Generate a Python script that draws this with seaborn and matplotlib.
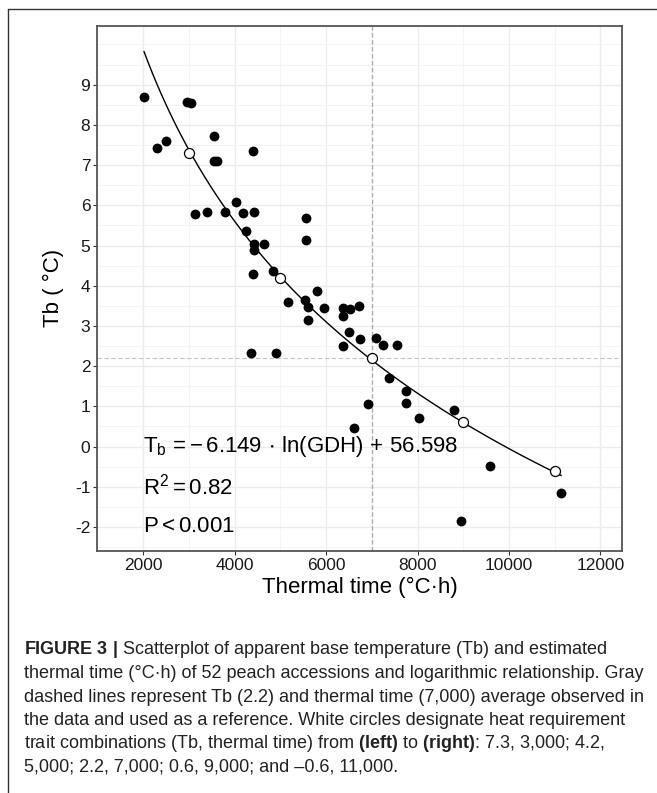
import numpy as np
import pandas as pd
import matplotlib
matplotlib.use("Agg")
import matplotlib.pyplot as plt
import seaborn as sns
from matplotlib import font_manager as fm
from matplotlib.lines import Line2D

# Observed accessions: thermal time (°C·h) and apparent base temperature Tb (°C)
thermal_time = [2020, 2968, 3049, 2299, 2510, 3552, 3559, 3617, 4404, 3143,
                3405, 3799, 4033, 4186, 4426, 4251, 4433, 4638, 4433, 5563,
                5556, 4411, 4834, 5806, 5163, 5541, 5613, 5613, 5949, 6372,
                6517, 6717, 6379, 6499, 6743, 6364, 4353, 4913, 6910, 6619,
                7093, 7239, 7559, 7370, 7749, 7756, 8040, 8798, 9592, 11143,
                8957]
tb_obs = [8.69, 8.57, 8.55, 7.43, 7.59, 7.72, 7.09, 7.09, 7.34, 5.78,
          5.83, 5.83, 6.09, 5.82, 5.83, 5.35, 5.04, 5.05, 4.89, 5.68,
          5.14, 4.28, 4.36, 3.87, 3.59, 3.64, 3.48, 3.16, 3.44, 3.44,
          3.42, 3.50, 3.25, 2.86, 2.67, 2.50, 2.32, 2.32, 1.07, 0.47,
          2.70, 2.52, 2.52, 1.70, 1.39, 1.08, 0.72, 0.92, -0.49, -1.15,
          -1.85]

# Heat requirement trait combinations (white circles)
combo_time = [3000, 5000, 7000, 9000, 11000]
combo_tb = [7.3, 4.2, 2.2, 0.6, -0.6]

# Reference lines (averages)
MEAN_TIME = 7000
MEAN_TB = 2.2

x_ticks = [2000, 4000, 6000, 8000, 10000, 12000]
y_ticks = [-2, -1, 0, 1, 2, 3, 4, 5, 6, 7, 8, 9]

annot_lines = [r"$T_b\,=-\,6.149\,\cdot\,ln(GDH)\,+\,56.598$",
               r"$R^2 = 0.82$",
               r"$P < 0.001$"]
annot_y = [0, -1, -2]

caption = [
    r"$\mathbf{FIGURE\ 3\ |}$ Scatterplot of apparent base temperature (Tb) and estimated",
    "thermal time (°C·h) of 52 peach accessions and logarithmic relationship. Gray",
    "dashed lines represent Tb (2.2) and thermal time (7,000) average observed in",
    "the data and used as a reference. White circles designate heat requirement",
    r"trait combinations (Tb, thermal time) from $\mathbf{(left)}$ to $\mathbf{(right)}$: 7.3, 3,000; 4.2,",
    "5,000; 2.2, 7,000; 0.6, 9,000; and –0.6, 11,000.",
]


def has_font(name):
    try:
        fm.findfont(fm.FontProperties(family=name), fallback_to_default=False)
        return True
    except ValueError:
        return False


CAP_FONT = "Liberation Sans Narrow" if has_font("Liberation Sans Narrow") else "Liberation Sans"

sns.set_style("white")
plt.rcParams["font.family"] = ["Liberation Sans", "DejaVu Sans"]
plt.rcParams["axes.unicode_minus"] = False
plt.rcParams["mathtext.fontset"] = "custom"
plt.rcParams["mathtext.default"] = "regular"
plt.rcParams["mathtext.rm"] = "Liberation Sans"
plt.rcParams["mathtext.it"] = "Liberation Sans:italic"
plt.rcParams["mathtext.bf"] = f"{CAP_FONT}:bold"

W, H = 657, 793
fig = plt.figure(figsize=(W / 100, H / 100), dpi=100)
fig.patch.set_facecolor("white")

# panel in pixel coordinates
left, right, top, bottom = 97.3, 622.0, 26.0, 550.7
ax = fig.add_axes([left / W, 1 - bottom / H, (right - left) / W, (bottom - top) / H])

df = pd.DataFrame({"time": thermal_time, "tb": tb_obs})
combos = pd.DataFrame({"time": combo_time, "tb": combo_tb})

ax.axvline(MEAN_TIME, color="#adadad", lw=1.0, ls=(0, (3.2, 1.8)), zorder=2)
ax.axhline(MEAN_TB, color="#c4c4c4", lw=0.8, ls=(0, (4, 2.2)), zorder=2)

sns.scatterplot(data=df, x="time", y="tb", color="black", s=50,
                linewidth=0, ax=ax, zorder=3, legend=False)
sns.regplot(data=df, x="time", y="tb", logx=True, scatter=False, ci=None,
            line_kws=dict(color="black", lw=1.0, zorder=4), ax=ax)
sns.scatterplot(data=combos, x="time", y="tb", facecolor="white",
                edgecolor="black", s=52, linewidth=0.9, ax=ax, zorder=5,
                legend=False)

for txt, yy in zip(annot_lines, annot_y):
    ax.text(2000, yy, txt, ha="left", va="center", fontsize=16, color="black",
            zorder=6)

ax.set_xlim(1000, 12470)
ax.set_ylim(-2.59, 10.46)
ax.set_xticks(x_ticks)
ax.set_yticks(y_ticks)
ax.set_xticks(np.arange(1000, 12001, 1000), minor=True)
ax.set_yticks(np.arange(-2.5, 10.01, 0.5), minor=True)
ax.grid(which="major", color="#ebebeb", lw=1.0, zorder=0)
ax.grid(which="minor", color="#f3f3f3", lw=0.6, zorder=0)
ax.set_axisbelow(True)
ax.tick_params(which="minor", length=0)
ax.tick_params(which="major", length=3, width=0.8, color="#333333",
               labelsize=12.5, labelcolor="#1a1a1a", pad=2, direction="out",
               bottom=True, left=True)
for sp in ax.spines.values():
    sp.set_color("#555555")
    sp.set_linewidth(1.3)
ax.set_xlabel("")
ax.set_ylabel("")

fig.text((left + right) / 2 / W, 1 - 587 / H, "Thermal time (°C·h)",
         ha="center", va="center", fontsize=16, color="black")
fig.text(53 / W, 1 - 288 / H, "Tb ( °C)", rotation=90,
         ha="center", va="center", fontsize=16, color="black")

# caption
line_y = [650, 673.5, 697, 720.5, 744, 767.5]
for txt, yy in zip(caption, line_y):
    fig.text(24 / W, 1 - yy / H, txt, ha="left", va="center",
             fontsize=13, color="#222222", family=[CAP_FONT, "DejaVu Sans"])

# outer frame (cropped box, top and left edges visible)
fig.add_artist(Line2D([8 / W, 1], [1 - 8.5 / H, 1 - 8.5 / H],
                      transform=fig.transFigure, color="#333333", lw=1.0))
fig.add_artist(Line2D([8 / W, 8 / W], [1 - 8.5 / H, 0],
                      transform=fig.transFigure, color="#333333", lw=1.0))

fig.savefig("out.png", dpi=100, facecolor="white")
